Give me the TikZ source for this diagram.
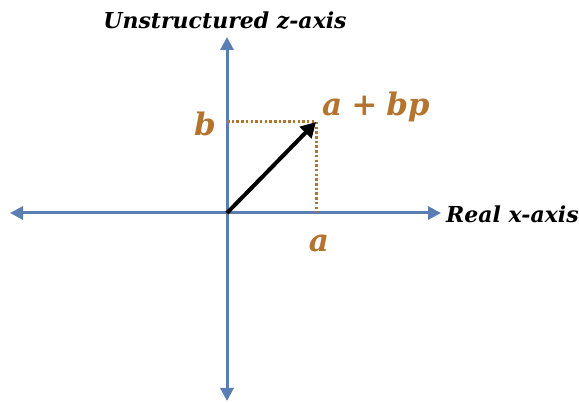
\documentclass[tikz,border=0pt]{standalone}
\usepackage{fontspec}
\setmainfont{DejaVu Serif}
\usetikzlibrary{arrows.meta}
\definecolor{axisblue}{HTML}{5A7DB4}
\definecolor{labbrown}{HTML}{B4742E}
\begin{document}
\begin{tikzpicture}[x=1pt,y=-1pt,
  axis/.style={draw=axisblue,line width=3pt,-{Triangle[length=13pt,width=13pt]}},
  guide/.style={draw=labbrown,line width=3pt,dash pattern=on 2.5pt off 2.2pt},
  vec/.style={draw=black,line width=4pt,-{Triangle[length=15pt,width=16pt]}},
  axlabel/.style={font=\fontsize{22}{22}\selectfont\bfseries\itshape,text=black,inner sep=0pt},
  brlabel/.style={font=\fontsize{31}{31}\selectfont\bfseries\itshape,text=labbrown,inner sep=0pt}]
\useasboundingbox (0,0) rectangle (579,403);
\coordinate (O) at (227,213);
\coordinate (L) at (10,213);
\coordinate (R) at (441,213);
\coordinate (T) at (227,37);
\coordinate (B) at (227,401);
\coordinate (P) at (316,122);
\coordinate (Pb) at (227,122);
\coordinate (Pa) at (316,213);
\draw[axis] (O) -- (R);
\draw[axis] (O) -- (L);
\draw[axis] (O) -- (T);
\draw[axis] (O) -- (B);
\draw[guide] (Pb) -- (P);
\draw[guide] (P) -- (Pa);
\draw[vec] (O) -- (P);
\node[axlabel] (zlab) at (225,21) {Unstructured z-axis};
\node[axlabel,anchor=west] (xlab) at (446,214) {Real x-axis};
\node[brlabel] (blab) at (205,124) {b};
\node[brlabel] (alab) at (319,243) {a};
\node[brlabel,anchor=west] (plab) at (322,107) {a\hspace{9pt}{\upshape +}\hspace{9pt}bp};
\end{tikzpicture}
\end{document}
